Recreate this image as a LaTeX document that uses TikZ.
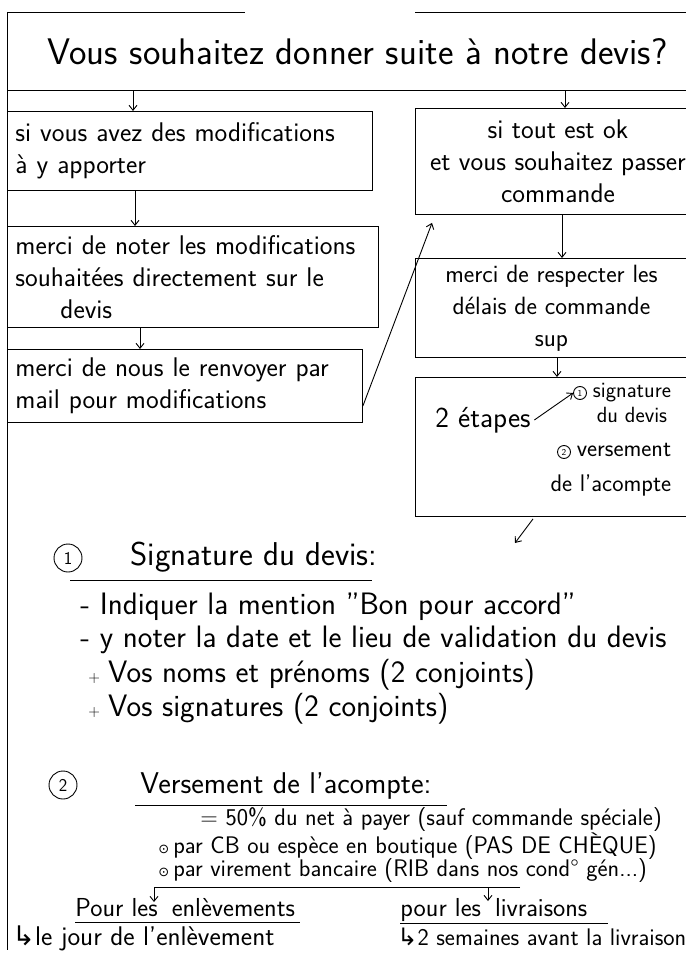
\documentclass[tikz,border=0pt]{standalone}
\usepackage{fontspec}
\newfontfamily\symfont{DejaVu Sans}
\usetikzlibrary{calc, shapes, positioning, arrows.meta}

\begin{document}
\begin{tikzpicture}[x=1pt, y=-1pt, line width=0.9pt, >={Straight Barb[length=5pt, width=8pt]}]

    \tikzstyle{box}=[draw=black, rectangle, anchor=north west, inner xsep=8pt, font=\sffamily\fontsize{27}{32}\selectfont];
    \tikzstyle{txt}=[anchor=base west, inner sep=0pt, font=\sffamily\fontsize{31}{34}\selectfont];
    \tikzstyle{small}=[anchor=base west, inner sep=0pt, font=\sffamily\fontsize{24}{26}\selectfont];
    \tikzstyle{head}=[anchor=base west, inner sep=0pt, font=\sffamily\fontsize{33}{36}\selectfont];
    \tikzstyle{num}=[circle, draw=black, inner sep=0pt, minimum size=28pt, font=\sffamily\fontsize{18}{18}\selectfont];
    \tikzstyle{tinynum}=[circle, draw=black, inner sep=0pt, minimum size=13pt, font=\sffamily\fontsize{9}{9}\selectfont];
    \newcommand{\plusmark}{{\fontsize{16}{16}\selectfont +}\hspace{8pt}}
    \newcommand{\ringdot}{{\symfont\fontsize{13}{13}\selectfont ⊙}\hspace{4pt}}

    \useasboundingbox (0,0) rectangle (685,957);

    % title strip
    \node[rectangle, anchor=north west, minimum width=700pt, minimum height=78pt, font=\sffamily\fontsize{37}{40}\selectfont] (title) at (7,12) {Vous souhaitez donner suite à notre devis?};
    \draw (title.north west) -- ++(238,0);
    \draw ([xshift=408pt]title.north west) -- ++(300,0);
    \draw (title.south west) -- ++(700,0);
    \draw (7,12) -- (7,950);

    % left column
    \node[box, minimum width=365pt, minimum height=79pt, text width=349pt, align=left] (L1) at (7,111) {si vous avez des modifications\\à y apporter};
    \node[box, minimum width=371pt, minimum height=101pt, text width=355pt, align=left] (L2) at (7,226) {merci de noter les modifications\\souhaitées directement sur le\\\hspace*{45pt}devis};
    \node[box, minimum width=355pt, minimum height=73pt, text width=339pt, align=left] (L3) at (7,349) {merci de nous le renvoyer par\\mail pour modifications};

    % right column
    \node[box, minimum width=285pt, minimum height=106pt, align=center] (R1) at (415,108) {si tout est ok\\et vous souhaitez passer\\commande};
    \node[box, minimum width=272pt, minimum height=99pt, align=center, font=\sffamily\fontsize{25}{32}\selectfont] (R2) at (415,258) {merci de respecter les\\délais de commande\\sup};
    \node[box, minimum width=300pt, minimum height=139pt] (R3) at (415,377) {};

    \node[font=\sffamily\fontsize{29}{29}\selectfont] (etapes) at (483,420) {2 étapes};
    \node[tinynum] (n1) at (580,393) {1};
    \node[font=\sffamily\fontsize{22}{25}\selectfont, align=center] (sig) at (632,403) {signature\\du devis};
    \node[tinynum] (n2) at (564,452) {2};
    \node[font=\sffamily\fontsize{24}{35}\selectfont, align=right, anchor=east] (ver) at (675,470) {versement\\de l'acompte};

    % connectors
    \draw ([xshift=126pt]title.south west) edge[->] ([xshift=126pt]L1.north west);
    \draw ([xshift=558pt]title.south west) edge[->] ([xshift=150pt]R1.north west);
    \draw ([xshift=128pt]L1.south west) edge[->] ([xshift=128pt]L2.north west);
    \draw ([xshift=133pt]L2.south west) edge[->] ([xshift=133pt]L3.north west);
    \draw ([yshift=-20pt]L3.east) edge[->] ([xshift=17pt, yshift=-8pt]R1.south west);
    \draw ([xshift=147pt]R1.south west) edge[->] ([xshift=147pt]R2.north west);
    \draw ([xshift=142pt]R2.south west) edge[->] ([xshift=142pt]R3.north west);
    \draw (etapes.east) edge[->] (n1.west);

    % 1 - signature
    \coordinate (s1) at (515,543);
    \draw ([xshift=118pt, yshift=-2pt]R3.south west) edge[->] (s1);
    \node[num] (c1) at (68,558) {1};
    \node[head] (head1) at (130,565) {Signature du devis:};
    \draw (70,580) -- (372,580);
    \node[txt] (i1) at (80,614) {- Indiquer la mention "Bon pour accord"};
    \node[txt] (i2) at (80,647) {- y noter la date et le lieu de validation du devis};
    \node[txt] (i3) at (88,682) {\plusmark Vos noms et prénoms (2 conjoints)};
    \node[txt] (i4) at (88,716) {\plusmark Vos signatures (2 conjoints)};

    % 2 - acompte
    \node[num] (c2) at (63,785) {2};
    \node[head, font=\sffamily\fontsize{30}{34}\selectfont] (head2) at (140,793) {Versement de l'acompte:};
    \draw (135,805) -- (447,805);
    \node[small] (pay) at (200,825) {= 50\% du net à payer (sauf commande spéciale)};
    \node[small] (cb) at (158,853) {\ringdot par CB ou espèce en boutique (PAS DE CHÈQUE)};
    \node[small] (vir) at (158,876) {\ringdot par virement bancaire (RIB dans nos cond° gén...)};

    \node[txt, font=\sffamily\fontsize{26}{30}\selectfont] (enl) at (75,916) {Pour les \hspace{6pt}enlèvements};
    \node[txt, font=\sffamily\fontsize{26}{30}\selectfont] (liv) at (400,916) {pour les \hspace{6pt}livraisons};
    \draw (enl.base west) ++(0,6) -- ++(225,0);
    \draw (liv.base west) ++(0,7) -- ++(208,0);
    \coordinate (v) at (520,887);
    \coordinate (va) at (154,887);
    \coordinate (vb) at (488,887);
    \draw[->] (v) -- (va) -- ([yshift=14pt]enl.base -| va);
    \draw (vb) edge[->] ++(0,14);

    \node[txt, font=\sffamily\fontsize{27}{30}\selectfont] (jour) at (12,945) {{\symfont ↳}le jour de l'enlèvement};
    \node[txt, font=\sffamily\fontsize{24}{30}\selectfont] (sem) at (397,945) {{\symfont ↳}2 semaines avant la livraison};

\end{tikzpicture}
\end{document}
